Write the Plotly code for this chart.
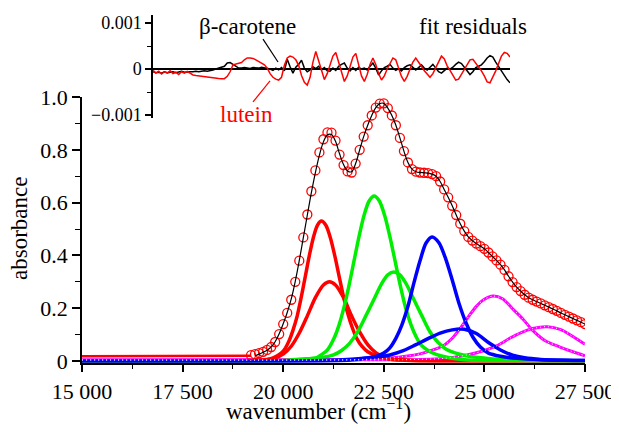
import plotly.graph_objects as go

FONT = '"Liberation Serif", "Times New Roman", Times, "DejaVu Serif", serif'

# ---------------- measured spectrum (lutein), circles ----------------
DATA_NU = list(range(19200, 27501, 100))
DATA_ABS = [
    0.022, 0.026, 0.030, 0.035, 0.042, 0.053, 0.072, 0.102, 0.140, 0.182,
    0.232, 0.300, 0.380, 0.468, 0.555, 0.643, 0.722, 0.790, 0.840, 0.866,
    0.865, 0.835, 0.782, 0.742, 0.718, 0.714, 0.748, 0.800, 0.850, 0.893,
    0.930, 0.960, 0.975, 0.976, 0.958, 0.930, 0.893, 0.845, 0.795, 0.752,
    0.727, 0.717, 0.714, 0.713, 0.712, 0.708, 0.700, 0.680, 0.650, 0.620,
    0.588, 0.553, 0.520, 0.492, 0.470, 0.456, 0.445, 0.435, 0.425, 0.411,
    0.396, 0.381, 0.365, 0.345, 0.321, 0.299, 0.280, 0.265, 0.251, 0.240,
    0.232, 0.225, 0.218, 0.211, 0.204, 0.197, 0.190, 0.182, 0.175, 0.168,
    0.161, 0.154, 0.147, 0.140,
]
# low-energy baseline of the measured spectrum
BASE_NU = [15000, 17000, 19200]
BASE_ABS = [0.018, 0.018, 0.020]

# ---------------- total fit (black line) ----------------
FIT_NU = list(range(19300, 27501, 100))
FIT_ABS = [
    0.020, 0.026, 0.033, 0.041, 0.053, 0.073, 0.103, 0.141, 0.184, 0.235,
    0.302, 0.381, 0.467, 0.553, 0.638, 0.714, 0.780, 0.830, 0.857, 0.858,
    0.832, 0.785, 0.744, 0.720, 0.717, 0.748, 0.800, 0.850, 0.893, 0.930,
    0.960, 0.975, 0.976, 0.958, 0.930, 0.893, 0.845, 0.795, 0.752, 0.727,
    0.717, 0.714, 0.713, 0.712, 0.708, 0.700, 0.680, 0.650, 0.620, 0.588,
    0.553, 0.520, 0.492, 0.470, 0.456, 0.445, 0.435, 0.425, 0.411, 0.396,
    0.381, 0.365, 0.345, 0.321, 0.299, 0.280, 0.265, 0.251, 0.240, 0.232,
    0.225, 0.218, 0.211, 0.204, 0.197, 0.190, 0.182, 0.175, 0.168, 0.161,
    0.154, 0.147, 0.140,
]

# ---------------- fitted vibronic components ----------------
R1_NU = [15000, 19200, 19550, 19750, 19950, 20050, 20150, 20250, 20350, 20450,
         20550, 20650, 20750, 20850, 20950, 21060, 21170, 21280, 21390, 21500,
         21610, 21720, 21830, 21950, 22100, 22250, 22450, 22700, 23000, 23500, 27500]
R1_ABS = [0, 0.002, 0.005, 0.012, 0.030, 0.048, 0.078, 0.120, 0.172, 0.243,
          0.321, 0.400, 0.468, 0.514, 0.530, 0.514, 0.468, 0.400, 0.321, 0.243,
          0.177, 0.125, 0.085, 0.057, 0.035, 0.024, 0.013, 0.006, 0.003, 0.0, 0.0]

R2_NU = [15000, 19300, 19600, 19800, 20000, 20200, 20400, 20600, 20800, 21000,
         21150, 21300, 21500, 21700, 21900, 22100, 22300, 22500, 22800, 23200, 24000, 27500]
R2_ABS = [0, 0.001, 0.005, 0.012, 0.026, 0.056, 0.106, 0.171, 0.240, 0.288,
          0.300, 0.288, 0.240, 0.171, 0.110, 0.062, 0.032, 0.015, 0.006, 0.002, 0.0, 0.0]

G1_NU = [15000, 20300, 20760, 20960, 21100, 21260, 21385, 21510, 21635, 21760,
         21885, 22010, 22135, 22260, 22390, 22520, 22650, 22780, 22910, 23040,
         23170, 23300, 23430, 23600, 23800, 24100, 24500, 25000, 27500]
G1_ABS = [0, 0.001, 0.007, 0.025, 0.042, 0.085, 0.135, 0.203, 0.286, 0.379,
          0.472, 0.552, 0.606, 0.625, 0.606, 0.552, 0.472, 0.379, 0.286, 0.203,
          0.140, 0.093, 0.060, 0.040, 0.025, 0.013, 0.005, 0.002, 0.0]

G2_NU = [15000, 20000, 20700, 21000, 21250, 21450, 21650, 21850, 22050, 22250,
         22450, 22600, 22750, 22900, 23050, 23250, 23450, 23650, 23850, 24050,
         24250, 24500, 24800, 25200, 25800, 26500, 27500]
G2_ABS = [0, 0.002, 0.010, 0.014, 0.023, 0.040, 0.067, 0.110, 0.170, 0.232,
          0.294, 0.326, 0.337, 0.326, 0.294, 0.232, 0.170, 0.110, 0.070, 0.045,
          0.032, 0.022, 0.014, 0.008, 0.004, 0.002, 0.001]

B1_NU = [15000, 21500, 22050, 22300, 22500, 22650, 22800, 22950, 23100, 23250,
         23400, 23550, 23700, 23870, 24040, 24210, 24380, 24550, 24720, 24900,
         25100, 25400, 25800, 26400, 27500]
B1_ABS = [0, 0.002, 0.011, 0.017, 0.030, 0.050, 0.086, 0.137, 0.207, 0.297,
          0.380, 0.447, 0.470, 0.448, 0.386, 0.302, 0.213, 0.142, 0.089, 0.053,
          0.030, 0.018, 0.010, 0.005, 0.002]

B2_NU = [15000, 21000, 21800, 22300, 22650, 23000, 23300, 23600, 23900, 24200,
         24500, 24800, 25100, 25400, 25700, 26000, 26400, 27000, 27500]
B2_ABS = [0, 0.002, 0.008, 0.015, 0.023, 0.040, 0.062, 0.085, 0.106, 0.118,
          0.120, 0.104, 0.070, 0.042, 0.022, 0.012, 0.006, 0.003, 0.002]

M1_NU = [15000, 22000, 22650, 23000, 23400, 23720, 24000, 24200, 24400, 24600,
         24800, 25000, 25215, 25450, 25700, 25950, 26200, 26500, 26880, 27200, 27500]
M1_ABS = [0.004, 0.006, 0.011, 0.017, 0.027, 0.042, 0.060, 0.086, 0.124, 0.167,
          0.207, 0.234, 0.246, 0.236, 0.198, 0.160, 0.116, 0.078, 0.053, 0.035, 0.020]

M2_NU = [15000, 23000, 24000, 24570, 25000, 25300, 25640, 25900, 26200, 26560,
         26900, 27200, 27500]
M2_ABS = [0.004, 0.005, 0.010, 0.023, 0.040, 0.057, 0.087, 0.107, 0.123, 0.130,
          0.119, 0.093, 0.063]

# ---------------- fit residuals (units of 1e-4 absorbance) ----------------
RES_NU = list(range(15000, 27501, 100))
RES_LUTEIN_E4 = [
    -0.3, -0.9, -0.5, -1.1, -0.6, -0.9, -0.4, -1.0, -0.7, -1.2,
    -0.6, -0.9, -0.5, -1.0, -1.3, -1.4, -1.5, -1.6, -1.7, -1.8,
    -1.85, -1.9, -2.0, -2.05, -2.1, -2.1, -1.6, -0.6, 0.9, 1.1,
    1.2, 1.4, 2.0, 2.4, 2.4, 2.3, 2.0, 1.7, 1.3, 0.9,
    0.2, -1.0, -1.8, -2.2, -2.4, -1.8, 0.8, 2.4, 2.8, 2.6,
    2.0, 0.8, -1.4, -2.9, -3.5, -1.8, 1.5, 3.8, 1.8, -0.6,
    -2.3, -1.0, 1.0, 2.8, 3.6, 1.6, -0.5, -2.7, -1.5, 0.4,
    2.6, 3.4, 1.0, -1.5, -2.7, -1.2, 1.0, 2.4, 1.0, -1.0,
    -2.4, -1.5, 0.0, 1.3, 2.4, 2.0, 0.3, -1.6, -2.7, -1.6,
    0.0, 1.5, 2.4, 1.6, 0.6, -0.4, -1.2, -1.8, -1.0, 0.2,
    1.6, 2.8, 2.2, 0.7, -0.3, -1.3, -2.4, -2.2, -1.2, 0.0,
    1.1, 2.0, 2.1, 1.3, 0.4, -0.4, -1.5, -2.8, -3.0, -1.8,
    -0.4, 1.2, 2.8, 3.6, 3.4, 2.6,
]
RES_BCAROTENE_E4 = [
    -0.6, -0.8, -0.7, -0.9, -0.6, -0.8, -0.7, -0.6, -0.8, -0.7,
    -0.5, -0.7, -0.6, -0.6, -0.6, -0.5, -0.6, -0.5, -0.4, -0.5,
    -0.4, -0.2, 0.0, 0.2, 0.3, 0.6, 1.3, 1.4, 1.0, 0.5,
    0.2, 0.2, 0.3, 0.2, 0.1, 0.3, 0.2, 0.2, 0.4, 0.3,
    0.2, 0.0, -0.3, 0.2, -0.2, 0.3, -0.4, 2.1, 0.5, -0.9,
    0.4, 1.0, 1.9, 0.2, -0.6, -0.2, 0.5, 0.1, 0.6, -0.2,
    0.3, -0.4, -0.5, 0.2, -0.3, 0.6, 1.0, 1.3, 0.2, -0.4,
    0.3, -0.3, 0.4, 0.0, 0.2, -0.2, 0.6, 1.3, 0.2, -1.3,
    -0.4, 0.3, 0.6, 1.0, 0.2, -0.3, 0.1, -0.4, 0.3, 0.7,
    0.9, 0.4, -0.2, 0.3, 0.9, 0.2, -0.2, 0.4, 1.0, 0.2,
    -0.6, -0.9, -0.3, 0.2, 0.0, 0.4, 1.0, 1.5, 1.2, 0.4,
    -0.6, -1.2, -0.6, 0.3, 0.6, 0.9, 1.6, 2.4, 2.9, 2.6,
    1.5, 0.5, -0.4, -1.4, -2.3, -3.0,
]

X_TICKS = [15000, 17500, 20000, 22500, 25000, 27500]
X_TICKTEXT = ["15 000", "17 500", "20 000", "22 500", "25 000", "27 500"]
Y_TICKS = [0, 0.2, 0.4, 0.6, 0.8, 1.0]
Y_TICKTEXT = ["0", "0.2", "0.4", "0.6", "0.8", "1.0"]
RES_TICKS = [-0.001, 0, 0.001]
RES_TICKTEXT = ["\u22120.001", "0", "0.001"]

RED, GREEN, BLUE, MAGENTA = "#ff0000", "#00ee00", "#0000ff", "#ff00ff"

fig = go.Figure()

def comp(nu, ab, color, width=3.5):
    fig.add_trace(go.Scatter(x=nu, y=ab, mode="lines", line=dict(color=color, width=width, shape="spline", smoothing=0.8),
                             showlegend=False, hoverinfo="skip", xaxis="x", yaxis="y"))

comp(M1_NU, M1_ABS, MAGENTA, 3)
comp(M2_NU, M2_ABS, MAGENTA, 3)
comp(R1_NU, R1_ABS, RED)
comp(R2_NU, R2_ABS, RED)
comp(G1_NU, G1_ABS, GREEN)
comp(G2_NU, G2_ABS, GREEN)
comp(B1_NU, B1_ABS, BLUE)
comp(B2_NU, B2_ABS, BLUE)
# white dotted texture on the magenta components
for nu, ab in ((M1_NU, M1_ABS), (M2_NU, M2_ABS)):
    fig.add_trace(go.Scatter(x=nu, y=ab, mode="lines",
                             line=dict(color="white", width=1, dash="1px,3px", shape="spline", smoothing=0.8),
                             showlegend=False, hoverinfo="skip"))

fig.add_trace(go.Scatter(x=BASE_NU, y=BASE_ABS, mode="lines", line=dict(color=RED, width=2.5),
                         showlegend=False, hoverinfo="skip"))
fig.add_trace(go.Scatter(x=DATA_NU, y=DATA_ABS, mode="markers",
                         marker=dict(symbol="circle-open", size=9, color=RED, line=dict(color=RED, width=1.3)),
                         showlegend=False))
fig.add_trace(go.Scatter(x=FIT_NU, y=FIT_ABS, mode="lines", line=dict(color="black", width=1.2, shape="spline"),
                         showlegend=False))

# residuals inset
fig.add_trace(go.Scatter(x=RES_NU, y=[v * 1e-4 for v in RES_BCAROTENE_E4], mode="lines",
                         line=dict(color="black", width=1.5), xaxis="x2", yaxis="y2", showlegend=False))
fig.add_trace(go.Scatter(x=RES_NU, y=[v * 1e-4 for v in RES_LUTEIN_E4], mode="lines",
                         line=dict(color=RED, width=1.5), xaxis="x2", yaxis="y2", showlegend=False))

# the page body adds an 8 px offset; targets below are window pixels
OFF = 8
W, H = 619 - OFF, 432 - OFF
def px(x):
    return (x - OFF) / W
def py(y):
    return 1 - (y - OFF) / H

tickfont = dict(family=FONT, size=22, color="black")
fig.update_layout(
    template="none",
    width=W, height=H, margin=dict(l=0, r=0, t=0, b=0, autoexpand=False),
    paper_bgcolor="white", plot_bgcolor="rgba(0,0,0,0)",
    font=dict(family=FONT, color="black"),
    xaxis=dict(domain=[px(82), px(585)], range=[15000, 27500], showgrid=False, zeroline=False, automargin=False,
               showline=True, linecolor="black", linewidth=1.5, mirror=False,
               ticks="outside", ticklen=8, tickwidth=1.5, tickcolor="black",
               tickmode="array", tickvals=X_TICKS, ticktext=X_TICKTEXT, tickfont=tickfont,
               minor=dict(ticks="outside", ticklen=5, tickwidth=1.2, tickcolor="black", dtick=1250, tick0=15000,
                          showgrid=False),
               anchor="y"),
    yaxis=dict(domain=[py(362.6), py(97)], range=[-0.006, 1.0], showgrid=False, zeroline=False,
               automargin=False,
               showline=True, linecolor="black", linewidth=1.5,
               ticks="outside", ticklen=8, tickwidth=1.5, tickcolor="black",
               tickmode="array", tickvals=Y_TICKS, ticktext=Y_TICKTEXT, tickfont=tickfont,
               minor=dict(ticks="outside", ticklen=5, tickwidth=1.2, tickcolor="black", dtick=0.1, tick0=0,
                          showgrid=False),
               anchor="x"),
    xaxis2=dict(domain=[px(153), px(510)], range=[15000, 27500], visible=False, anchor="y2", automargin=False),
    yaxis2=dict(domain=[py(118), py(15)], range=[-0.001065, 0.001174], showgrid=False, automargin=False,
                zeroline=True, zerolinecolor="black", zerolinewidth=1.5,
                showline=True, linecolor="black", linewidth=1.5,
                ticks="outside", ticklen=6, tickwidth=1.5, tickcolor="black",
                tickmode="array", tickvals=RES_TICKS, ticktext=RES_TICKTEXT,
                tickfont=dict(family=FONT, size=18, color="black"),
                minor=dict(ticks="outside", ticklen=4, tickwidth=1.2, tickcolor="black", dtick=0.0005, tick0=0,
                           showgrid=False),
                anchor="x2"),
)

ann_font = dict(family=FONT, size=23, color="black")
fig.add_annotation(text="absorbance", x=px(19), y=py(229), xref="paper", yref="paper",
                   textangle=-90, showarrow=False, font=ann_font, xanchor="center", yanchor="middle")
fig.add_annotation(text="wavenumber (cm<sup>\u22121</sup>)", x=px(318), y=py(409), xref="paper", yref="paper",
                   showarrow=False, font=ann_font, xanchor="center", yanchor="middle")
fig.add_annotation(text="\u03b2-carotene", x=px(247), y=py(26), xref="paper", yref="paper",
                   showarrow=False, font=ann_font, xanchor="center", yanchor="middle")
fig.add_annotation(text="fit residuals", x=px(473), y=py(27), xref="paper", yref="paper",
                   showarrow=False, font=ann_font, xanchor="center", yanchor="middle")
fig.add_annotation(text="lutein", x=px(246), y=py(114), xref="paper", yref="paper",
                   showarrow=False, font=dict(family=FONT, size=23, color=RED), xanchor="center", yanchor="middle")

# leader lines (inset data coordinates)
fig.add_shape(type="line", xref="x2", yref="y2", x0=18852, y0=0.00065, x1=19377, y1=0.000152,
              line=dict(color="black", width=1.2))
fig.add_shape(type="line", xref="x2", yref="y2", x0=18501, y0=-0.000717, x1=19097, y1=-0.00026,
              line=dict(color=RED, width=1.2))

fig.write_html("out.html")
